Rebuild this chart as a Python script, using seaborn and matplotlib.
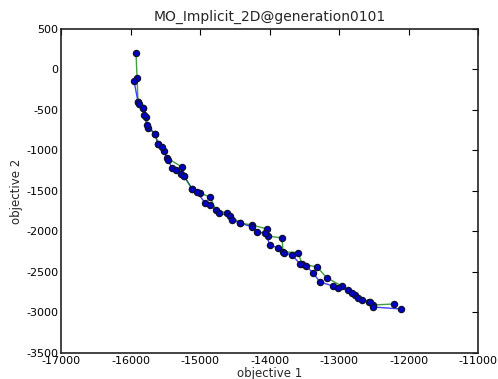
import pandas as pd
import matplotlib
matplotlib.use("Agg")
import matplotlib.pyplot as plt
import seaborn as sns

# front 1 (green line)
green_obj1 = [-15921, -15906, -15892, -15820, -15777, -15748, -15648, -15604, -15518, -15475,
              -15259, -15230, -15115, -15000, -14856, -14770, -14612, -14425, -14252, -14036,
              -14022, -13820, -13806, -13590, -13532, -13317, -13173, -12957, -12770, -12569,
              -12511, -12209]
green_obj2 = [204, -105, -401, -475, -586, -722, -796, -920, -1006, -1093,
              -1204, -1315, -1475, -1525, -1574, -1735, -1772, -1895, -1920, -1969,
              -2056, -2080, -2253, -2260, -2401, -2438, -2574, -2673, -2784, -2870,
              -2907, -2895]

# front 2 (blue line)
blue_obj1 = [-15950, -15892, -15878, -15820, -15806, -15763, -15648, -15604, -15547, -15460,
             -15403, -15345, -15273, -15230, -15115, -15043, -14928, -14856, -14727, -14568,
             -14540, -14425, -14252, -14180, -14065, -13993, -13878, -13791, -13676, -13561,
             -13475, -13374, -13274, -13086, -13015, -12871, -12813, -12727, -12669, -12554,
             -12511, -12108]
blue_obj2 = [-142, -401, -426, -475, -562, -685, -796, -920, -957, -1117,
             -1216, -1241, -1290, -1315, -1475, -1512, -1648, -1673, -1772, -1809,
             -1858, -1895, -1944, -2006, -2019, -2167, -2204, -2266, -2290, -2401,
             -2426, -2512, -2624, -2673, -2698, -2722, -2759, -2821, -2846, -2870,
             -2932, -2957]

green_df = pd.DataFrame({'objective 1': green_obj1, 'objective 2': green_obj2})
blue_df = pd.DataFrame({'objective 1': blue_obj1, 'objective 2': blue_obj2})
all_df = pd.concat([green_df, blue_df], ignore_index=True)

sns.set_style("white")
plt.rcParams['font.family'] = ['DejaVu Sans']
plt.rcParams['axes.unicode_minus'] = False

fig = plt.figure(figsize=(4.98, 3.79), dpi=100)
ax = fig.add_axes([0.1225, 0.0686, 0.8375, 0.855])

sns.lineplot(data=blue_df, x='objective 1', y='objective 2', sort=False,
             color='#0000ff', lw=1.0, alpha=0.75, ax=ax)
sns.lineplot(data=green_df, x='objective 1', y='objective 2', sort=False,
             color='#008000', lw=1.0, alpha=0.75, ax=ax)
sns.scatterplot(data=all_df, x='objective 1', y='objective 2', color='#0000c8',
                edgecolor='#101030', linewidth=0.9, s=20, zorder=3, ax=ax)

ax.set_xlim(-17000, -11000)
ax.set_ylim(-3500, 500)
ax.set_xticks(range(-17000, -10999, 1000))
ax.set_yticks(range(-3500, 501, 500))
ax.tick_params(direction='in', length=4, width=0.8, top=True, right=True,
               labelsize=8, pad=2, colors='black')
for sp in ax.spines.values():
    sp.set_linewidth(1.2)
    sp.set_color('#222222')
ax.set_xlabel('objective 1', fontsize=8.5, labelpad=1)
ax.set_ylabel('objective 2', fontsize=8.5, labelpad=2)
ax.set_title('MO_Implicit_2D@generation0101', fontsize=10, pad=6)

fig.savefig('out.png', dpi=100)
